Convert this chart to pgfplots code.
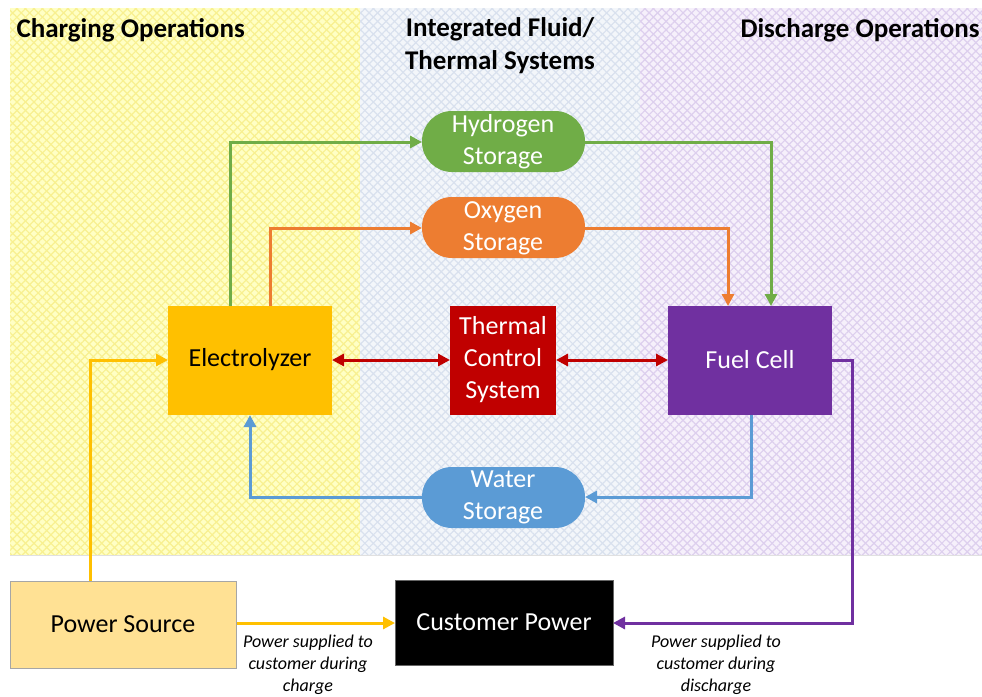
\documentclass[border=0pt]{standalone}
\usepackage{pgfplots}
\pgfplotsset{compat=1.18}
\usepackage{fontspec}
\setmainfont{Carlito}
\usetikzlibrary{arrows.meta,patterns.meta}

\definecolor{hgreen}{HTML}{70AD47}
\definecolor{oorange}{HTML}{ED7D31}
\definecolor{wblue}{HTML}{5B9BD5}
\definecolor{egold}{HTML}{FFC000}
\definecolor{tred}{HTML}{C00000}
\definecolor{fpurple}{HTML}{7030A0}
\definecolor{psrc}{HTML}{FFE194}
\definecolor{yfill}{HTML}{FFFFC4}
\definecolor{yline}{HTML}{F8F090}
\definecolor{bfill}{HTML}{F3F6FA}
\definecolor{bline}{HTML}{D9E1EE}
\definecolor{pfill}{HTML}{F6F0FB}
\definecolor{pline}{HTML}{DDCFEE}

\tikzset{
  flow/.style={line width=3pt, -{Triangle[length=12pt,width=12pt]}},
  boxtext/.style={font=\fontsize{26}{32}\selectfont, align=center},
  note/.style={font=\itshape\fontsize{18}{22}\selectfont, align=center},
  head/.style={font=\bfseries\fontsize{27}{33}\selectfont, align=center},
}

\begin{document}
\begin{tikzpicture}
\begin{axis}[
  scale only axis, width=982pt, height=696pt,
  xmin=0, xmax=982, ymin=0, ymax=696, y dir=reverse,
  axis lines=none, clip=true,
]
% background panels
\fill[white] (axis cs:0,0) rectangle (axis cs:982,696);
\fill[yfill] (axis cs:10,8) rectangle (axis cs:360,555);
\fill[pattern={Lines[angle=45,distance=6pt,line width=1.2pt]}, pattern color=yline] (axis cs:10,8) rectangle (axis cs:360,555);
\fill[pattern={Lines[angle=-45,distance=6pt,line width=1.2pt]}, pattern color=yline] (axis cs:10,8) rectangle (axis cs:360,555);
\fill[bfill] (axis cs:360,8) rectangle (axis cs:640,555);
\fill[pattern={Lines[angle=45,distance=6pt,line width=1.2pt]}, pattern color=bline] (axis cs:360,8) rectangle (axis cs:640,555);
\fill[pattern={Lines[angle=-45,distance=6pt,line width=1.2pt]}, pattern color=bline] (axis cs:360,8) rectangle (axis cs:640,555);
\fill[pfill] (axis cs:640,8) rectangle (axis cs:990,555);
\fill[pattern={Lines[angle=45,distance=6pt,line width=1.2pt]}, pattern color=pline] (axis cs:640,8) rectangle (axis cs:990,555);
\fill[pattern={Lines[angle=-45,distance=6pt,line width=1.2pt]}, pattern color=pline] (axis cs:640,8) rectangle (axis cs:990,555);
\draw[black!12, line width=1pt] (axis cs:10,555.5) -- (axis cs:982,555.5);

% headers
\node[head, anchor=west] at (axis cs:13,30) {Charging Operations};
\node[head] at (axis cs:500,46) {Integrated Fluid/\\Thermal Systems};
\node[head, anchor=west] at (axis cs:737,30) {Discharge Operations};

% flows
\draw[flow, hgreen] (axis cs:230,306) -- (axis cs:230,142) -- (axis cs:422,142);
\draw[flow, hgreen] (axis cs:585,142) -- (axis cs:771,142) -- (axis cs:771,306);
\draw[flow, oorange] (axis cs:270,306) -- (axis cs:270,228) -- (axis cs:422,228);
\draw[flow, oorange] (axis cs:585,228) -- (axis cs:728,228) -- (axis cs:728,306);
\draw[flow, tred, {Triangle[length=12pt,width=12pt]}-{Triangle[length=12pt,width=12pt]}] (axis cs:332,360) -- (axis cs:450,360);
\draw[flow, tred, {Triangle[length=12pt,width=12pt]}-{Triangle[length=12pt,width=12pt]}] (axis cs:556,360) -- (axis cs:668,360);
\draw[flow, wblue] (axis cs:751,415) -- (axis cs:751,497) -- (axis cs:585,497);
\draw[flow, wblue] (axis cs:422,497) -- (axis cs:250,497) -- (axis cs:250,415);
\draw[flow, egold] (axis cs:90,581) -- (axis cs:90,360) -- (axis cs:168,360);
\draw[flow, egold] (axis cs:236,623) -- (axis cs:395,623);
\draw[flow, fpurple] (axis cs:832,360) -- (axis cs:852,360) -- (axis cs:852,623) -- (axis cs:613,623);

% storages
\fill[hgreen, rounded corners=30pt] (axis cs:422,111) rectangle (axis cs:585,172);
\node[boxtext, text=white] at (axis cs:503,142) {Hydrogen\\Storage};
\fill[oorange, rounded corners=30pt] (axis cs:422,197) rectangle (axis cs:585,258);
\node[boxtext, text=white] at (axis cs:503,228) {Oxygen\\Storage};
\fill[wblue, rounded corners=30pt] (axis cs:422,467) rectangle (axis cs:585,528);
\node[boxtext, text=white] at (axis cs:503,497) {Water\\Storage};

% units
\fill[egold] (axis cs:168,306) rectangle (axis cs:332,415);
\node[boxtext] at (axis cs:250,360) {Electrolyzer};
\fill[tred] (axis cs:450,306) rectangle (axis cs:556,415);
\node[boxtext, text=white] at (axis cs:503,360) {Thermal\\Control\\System};
\fill[fpurple] (axis cs:668,306) rectangle (axis cs:832,415);
\node[boxtext, text=white] at (axis cs:750,360) {Fuel Cell};
\draw[fill=psrc, draw=black!35, line width=1pt] (axis cs:10,581) rectangle (axis cs:236,668);
\node[boxtext] at (axis cs:123,624) {Power Source};
\draw[fill=black, draw=black!60, line width=1pt] (axis cs:395,580) rectangle (axis cs:613,665);
\node[boxtext, text=white] at (axis cs:504,622) {Customer Power};

% notes
\node[note] at (axis cs:308,665) {Power supplied to\\customer during\\charge};
\node[note] at (axis cs:716,665) {Power supplied to\\customer during\\discharge};
\end{axis}
\pgfresetboundingbox
\useasboundingbox (current axis.south west) rectangle (current axis.north east);
\end{tikzpicture}
\end{document}
